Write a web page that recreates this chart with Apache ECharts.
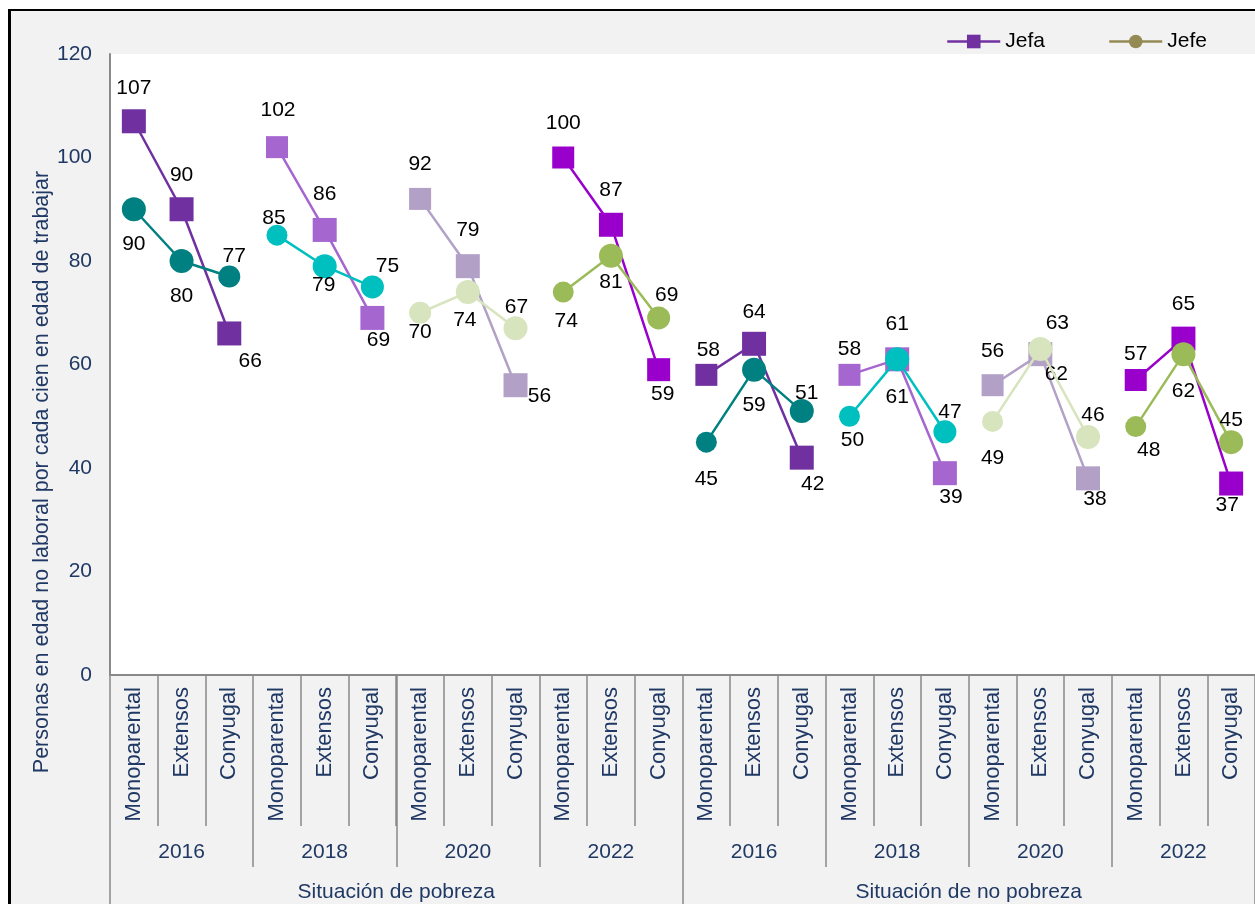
<!DOCTYPE html>
<html>
<head>
<meta charset="utf-8">
<script src="https://cdn.jsdelivr.net/npm/echarts@6/dist/echarts.min.js"></script>
<style>
  html, body { margin: 0; padding: 0; background: #ffffff; }
  #frame { position: absolute; left: 8px; top: 9px; width: 1300px; height: 1000px; background: #f2f2f2; border-top: 2px solid #000; border-left: 3px solid #000; }
  #chart { position: absolute; left: 0; top: 0; width: 1255px; height: 904px; }
</style>
</head>
<body>
<div id="frame"></div>
<div id="chart"></div>
<script>
// ---- data ----
const typeLabels = ['Monoparental', 'Extensos', 'Conyugal'];
const years = ['2016', '2018', '2020', '2022'];
const groups = ['Situación de pobreza', 'Situación de no pobreza'];
// Jefa (squares), in order: pobreza 2016..2022, no pobreza 2016..2022; each Monoparental, Extensos, Conyugal
const jefa = [107, 90, 66, 102, 86, 69, 92, 79, 56, 100, 87, 59,
              58, 64, 42, 58, 61, 39, 56, 62, 38, 57, 65, 37];
// Jefe (circles)
const jefe = [90, 80, 77, 85, 79, 75, 70, 74, 67, 74, 81, 69,
              45, 59, 51, 50, 61, 47, 49, 63, 46, 48, 62, 45];
const yTicks = [0, 20, 40, 60, 80, 100, 120];

// ---- styles ----
const jefaColors = ['#7030a0', '#a666d0', '#b2a0c7', '#9900cc'];
const jefeColors = ['#008080', '#00bfbf', '#d7e4bd', '#9bbb59'];
const jefaLabelOffset = [[0,-33],[0,-34],[21,28], [1,-37],[0,-36],[6,22], [0,-35],[0,-36],[24,11], [0,-34],[0,-35],[4,25],
                         [2,-25],[0,-32],[11,27], [0,-26],[0,-35],[6,24], [0,-34],[16,20],[7,21], [0,-26],[0,-34],[-4,22]];
const jefeLabelOffset = [[0,35],[0,35],[5,-20], [-3,-17],[-1,19],[15,-21], [0,19],[-3,28],[1,-21], [3,29],[0,26],[8,-23],
                         [0,37],[0,36],[5,-18], [3,24],[0,38],[5,-20], [0,37],[17,-26],[5,-22], [13,24],[0,37],[0,-22]];
const jefaSizes = [24,24,24, 22,24,24, 22,24,24, 22,24,23, 22,24,24, 22,24,24, 22,24,24, 22,24,24];
const jefeSizes = [24,24,22, 21,24,23, 22,24,24, 21,24,23, 21,24,24, 21,24,23, 21,24,24, 21,24,24];

const FONT = 'Liberation Sans';
const NAVY = '#1f3864';
const AXISGREY = '#898989';

const categories = groups.flatMap(() => years.flatMap(() => typeLabels));
const yearCats = groups.flatMap(() => years);

function buildSeries(name, values, colors, offsets, sizes, symbol, z) {
  const out = [];
  const nGroups = values.length / 3;
  for (let g = 0; g < nGroups; g++) {
    const color = colors[g % colors.length];
    const data = values.map((v, i) => {
      if (Math.floor(i / 3) !== g) return '-';
      return {
        value: v,
        symbolSize: sizes[i],
        label: { offset: offsets[i] }
      };
    });
    out.push({
      name: name,
      type: 'line',
      xAxisIndex: 0,
      yAxisIndex: 0,
      data: data,
      symbol: symbol,
      connectNulls: false,
      z: z,
      animation: false,
      lineStyle: { color: color, width: 2.5 },
      itemStyle: { color: color },
      emphasis: { disabled: true },
      label: {
        show: true,
        position: 'inside',
        color: '#000',
        fontFamily: FONT,
        fontSize: 21,
        textBorderWidth: 0,
        formatter: '{c}'
      }
    });
  }
  return out;
}

const series = [].concat(
  buildSeries('Jefa', jefa, jefaColors, jefaLabelOffset, jefaSizes, 'rect', 2),
  buildSeries('Jefe', jefe, jefeColors, jefeLabelOffset, jefeSizes, 'circle', 3)
);

const chart = echarts.init(document.getElementById('chart'), null, { renderer: 'canvas' });
const legendText = { fontFamily: FONT, fontSize: 21, color: '#000' };
const option = {
  backgroundColor: 'transparent',
  animation: false,
  textStyle: { fontFamily: FONT },
  grid: {
    show: true, backgroundColor: '#ffffff', borderWidth: 0,
    left: 110, top: 54, width: 1146, height: 621, containLabel: false
  },
  legend: [
    {
      data: [{ name: 'Jefa', itemStyle: { color: '#7030a0' }, lineStyle: { color: '#7030a0', width: 2.5 } }],
      left: 946, top: 31, padding: 0, itemWidth: 53, itemHeight: 17,
      textStyle: legendText
    },
    {
      data: [{ name: 'Jefe', itemStyle: { color: '#948a54' }, lineStyle: { color: '#948a54', width: 2.5 } }],
      left: 1108, top: 31, padding: 0, itemWidth: 53, itemHeight: 17,
      textStyle: legendText
    }
  ],
  xAxis: [
    {
      type: 'category', data: categories, position: 'bottom', boundaryGap: true,
      axisLine: { show: true, lineStyle: { color: AXISGREY, width: 2 } },
      axisTick: { show: true, interval: 0, length: 151, lineStyle: { color: AXISGREY, width: 1.5 } },
      axisLabel: { interval: 0, rotate: 90, margin: 12, fontFamily: FONT, fontSize: 22, color: NAVY },
      splitLine: { show: false }
    },
    {
      type: 'category', data: yearCats, position: 'bottom', boundaryGap: true,
      axisLine: { show: false },
      axisTick: { show: true, interval: 0, length: 192, lineStyle: { color: AXISGREY, width: 1.5 } },
      axisLabel: { interval: 0, margin: 167, fontFamily: FONT, fontSize: 21, color: NAVY },
      splitLine: { show: false }
    },
    {
      type: 'category', data: groups, position: 'bottom', boundaryGap: true,
      axisLine: { show: false },
      axisTick: { show: true, interval: 0, length: 260, lineStyle: { color: AXISGREY, width: 1.5 } },
      axisLabel: { interval: 0, margin: 207, fontFamily: FONT, fontSize: 21, color: NAVY },
      splitLine: { show: false }
    }
  ],
  yAxis: {
    type: 'value', min: yTicks[0], max: yTicks[yTicks.length - 1], interval: yTicks[1] - yTicks[0],
    axisLine: { show: true, lineStyle: { color: AXISGREY, width: 2 } },
    axisTick: { show: false },
    splitLine: { show: false },
    axisLabel: { margin: 18, fontFamily: FONT, fontSize: 21, color: NAVY }
  },
  graphic: [
    {
      type: 'text', x: 42, y: 472, rotation: Math.PI / 2,
      style: {
        text: 'Personas en edad no laboral por cada cien en edad de trabajar',
        font: '21.5px "Liberation Sans"', fill: NAVY, align: 'center', verticalAlign: 'middle'
      }
    }
  ],
  series: series
};
chart.setOption(option);
</script>
</body>
</html>
